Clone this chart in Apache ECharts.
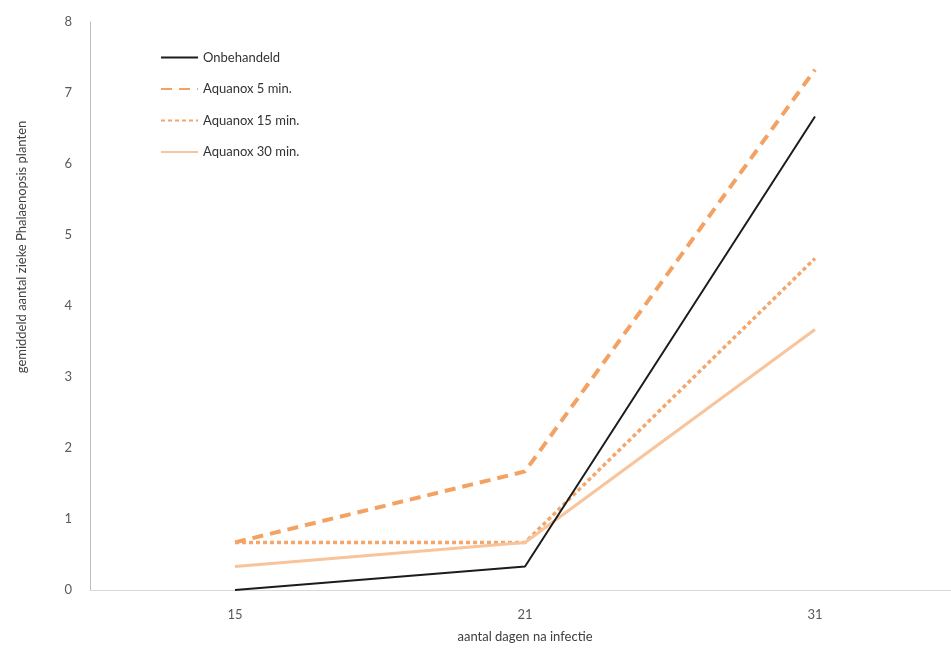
<!DOCTYPE html>
<html><head><meta charset="utf-8">
<script src="https://cdn.jsdelivr.net/npm/echarts@6/dist/echarts.min.js"></script>
<style>html,body{margin:0;padding:0;background:#fff}#c{width:951px;height:648px}</style>
</head><body><div id="c"></div>
<script>
var categories = ['15', '21', '31'];
var seriesNames = ['Onbehandeld', 'Aquanox 5 min.', 'Aquanox 15 min.', 'Aquanox 30 min.'];
var onbehandeld = [0, 0.33, 6.67];
var aquanox5 = [0.67, 1.67, 7.33];
var aquanox15 = [0.67, 0.67, 4.67];
var aquanox30 = [0.33, 0.67, 3.67];
var yTicks = [0, 1, 2, 3, 4, 5, 6, 7, 8];

var font = 'Lato, "Open Sans", sans-serif';
var chart = echarts.init(document.getElementById('c'));
chart.setOption({
  animation: false,
  backgroundColor: '#fff',
  grid: { left: 90, top: 22, width: 870, bottom: 58, outerBoundsMode: 'none', containLabel: false },
  legend: {
    orient: 'vertical', left: 155, top: 46, itemWidth: 37, itemHeight: 14, itemGap: 18.5,
    itemStyle: { color: 'rgba(0,0,0,0)', borderWidth: 0 },
    textStyle: { fontFamily: font, fontSize: 13, color: '#333333' },
    data: seriesNames
  },
  xAxis: {
    type: 'category', data: categories, boundaryGap: true,
    axisLine: { lineStyle: { color: '#d9d9d9', width: 1 } },
    axisTick: { show: false },
    axisLabel: { fontFamily: font, fontSize: 13, color: '#595959', margin: 18 },
    name: 'aantal dagen na infectie', nameLocation: 'middle', nameGap: 40,
    nameTextStyle: { fontFamily: font, fontSize: 13, color: '#404040' }
  },
  yAxis: {
    type: 'value', min: yTicks[0], max: yTicks[yTicks.length - 1], interval: 1,
    splitLine: { show: false },
    axisLine: { show: true, lineStyle: { color: '#bfbfbf', width: 1 } },
    axisTick: { show: false },
    axisLabel: { fontFamily: font, fontSize: 13, color: '#595959', margin: 18 },
    name: 'gemiddeld aantal zieke Phalaenopsis planten', nameLocation: 'middle', nameGap: 62,
    nameTextStyle: { fontFamily: font, fontSize: 13, color: '#404040', padding: [0, 0, 0, 118] }
  },
  series: [
    { name: seriesNames[0], type: 'line', data: onbehandeld, showSymbol: false, symbol: 'none',
      lineStyle: { color: '#1c1c1c', width: 2 }, itemStyle: { color: '#1c1c1c' }, z: 5 },
    { name: seriesNames[1], type: 'line', data: aquanox5, showSymbol: false, symbol: 'none',
      lineStyle: { color: '#f3a263', width: 4, type: [11, 7] }, itemStyle: { color: '#f3a263' } },
    { name: seriesNames[2], type: 'line', data: aquanox15, showSymbol: false, symbol: 'none',
      lineStyle: { color: '#f4a66c', width: 3.5, type: [4, 3] }, itemStyle: { color: '#f4a66c' } },
    { name: seriesNames[3], type: 'line', data: aquanox30, showSymbol: false, symbol: 'none',
      lineStyle: { color: '#f8c49c', width: 3 }, itemStyle: { color: '#f8c49c' } }
  ]
});
</script></body></html>
